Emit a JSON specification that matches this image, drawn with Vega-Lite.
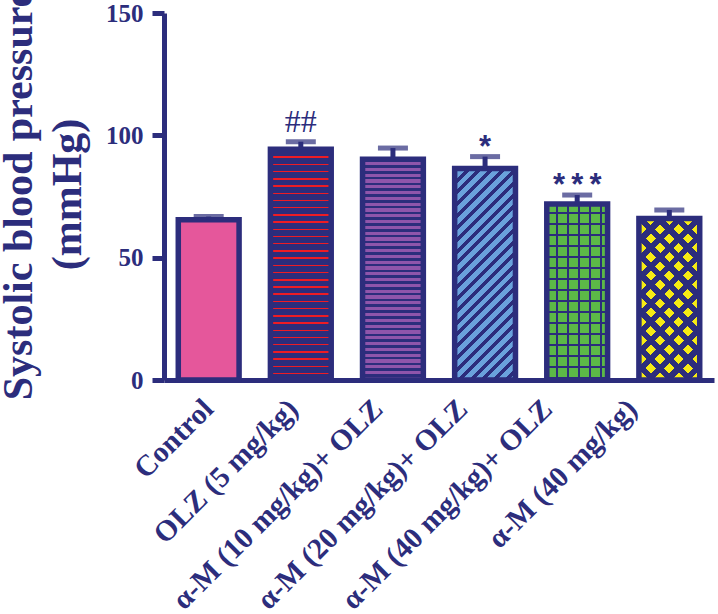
{
  "$schema": "https://vega.github.io/schema/vega-lite/v6.json",
  "width": 550,
  "height": 367,
  "autosize": "none",
  "padding": {"left": 164, "top": 13, "right": 4, "bottom": 234},
  "background": "white",
  "config": {"view": {"stroke": null}},
  "data": {"values": [
    {"k": "ctl", "g": "Control", "v": 65.5, "hi": 66.8, "sig": ""},
    {"k": "olz", "g": "OLZ (5 mg/kg)", "v": 94.3, "hi": 97.4, "sig": "##"},
    {"k": "m10", "g": "α-M (10 mg/kg)+ OLZ", "v": 90.2, "hi": 94.8, "sig": ""},
    {"k": "m20", "g": "α-M (20 mg/kg)+ OLZ", "v": 86.4, "hi": 91.3, "sig": "*"},
    {"k": "m40o", "g": "α-M (40 mg/kg)+ OLZ", "v": 71.9, "hi": 75.6, "sig": "*\u2009*\u2009*"},
    {"k": "m40", "g": "α-M (40 mg/kg)", "v": 66.0, "hi": 69.5, "sig": ""}
  ]},
  "encoding": {
    "x": {
      "field": "g", "type": "nominal", "sort": null,
      "scale": {"paddingInner": 0.34, "paddingOuter": 0.155},
      "axis": {
        "title": null, "domainColor": "#2c2d7c", "domainWidth": 5, "ticks": false, "tickSize": 0,
        "labelAngle": -45, "labelAlign": "right", "labelBaseline": "top",
        "labelFont": "Liberation Serif", "labelFontWeight": "bold", "labelFontSize": 29.5,
        "labelColor": "#2c2d7c", "labelPadding": 14, "labelOffset": {"expr": "-10 - 37*datum.index"}, "labelLimit": 500, "labelOverlap": false
      }
    },
    "y": {
      "field": "v", "type": "quantitative",
      "scale": {"domain": [0, 150], "nice": false},
      "axis": {
        "values": [0, 50, 100, 150], "grid": false,
        "domainColor": "#2c2d7c", "domainWidth": 5,
        "tickColor": "#2c2d7c", "tickWidth": 5, "tickSize": 12,
        "labelPadding": 9, "labelFont": "Liberation Serif", "labelFontWeight": "bold", "labelFontSize": 25, "labelColor": "#2c2d7c",
        "title": ["Systolic blood pressure", "(mmHg)"],
        "titleFont": "Liberation Serif", "titleFontWeight": "bold", "titleFontSize": 42, "titleColor": "#2c2d7c",
        "titleAngle": -90, "titleAlign": "center", "titleBaseline": "top",
        "titleX": -166, "titleY": 181, "titleLineHeight": 49
      }
    }
  },
  "layer": [
    {"transform": [{"filter": "datum.k === 'ctl'"}], "mark": {"type": "bar", "fill": "#e5579b"}},
    {"transform": [{"filter": "datum.k === 'olz'"}], "mark": {"type": "bar", "fill": {"gradient": "linear", "x1": 0, "y1": 0, "x2": 0, "y2": 1, "stops": [
      {"offset":0,"color":"#ee1c24"},{"offset":0.00625,"color":"#ee1c24"},{"offset":0.00625,"color":"#2c2d7c"},{"offset":0.03125,"color":"#2c2d7c"},
      {"offset":0.03125,"color":"#ee1c24"},{"offset":0.0375,"color":"#ee1c24"},{"offset":0.0375,"color":"#2c2d7c"},{"offset":0.0625,"color":"#2c2d7c"},
      {"offset":0.0625,"color":"#ee1c24"},{"offset":0.06875,"color":"#ee1c24"},{"offset":0.06875,"color":"#2c2d7c"},{"offset":0.09375,"color":"#2c2d7c"},
      {"offset":0.09375,"color":"#ee1c24"},{"offset":0.1,"color":"#ee1c24"},{"offset":0.1,"color":"#2c2d7c"},{"offset":0.125,"color":"#2c2d7c"},
      {"offset":0.125,"color":"#ee1c24"},{"offset":0.13125,"color":"#ee1c24"},{"offset":0.13125,"color":"#2c2d7c"},{"offset":0.15625,"color":"#2c2d7c"},
      {"offset":0.15625,"color":"#ee1c24"},{"offset":0.1625,"color":"#ee1c24"},{"offset":0.1625,"color":"#2c2d7c"},{"offset":0.1875,"color":"#2c2d7c"},
      {"offset":0.1875,"color":"#ee1c24"},{"offset":0.19375,"color":"#ee1c24"},{"offset":0.19375,"color":"#2c2d7c"},{"offset":0.21875,"color":"#2c2d7c"},
      {"offset":0.21875,"color":"#ee1c24"},{"offset":0.225,"color":"#ee1c24"},{"offset":0.225,"color":"#2c2d7c"},{"offset":0.25,"color":"#2c2d7c"},
      {"offset":0.25,"color":"#ee1c24"},{"offset":0.25625,"color":"#ee1c24"},{"offset":0.25625,"color":"#2c2d7c"},{"offset":0.28125,"color":"#2c2d7c"},
      {"offset":0.28125,"color":"#ee1c24"},{"offset":0.2875,"color":"#ee1c24"},{"offset":0.2875,"color":"#2c2d7c"},{"offset":0.3125,"color":"#2c2d7c"},
      {"offset":0.3125,"color":"#ee1c24"},{"offset":0.31875,"color":"#ee1c24"},{"offset":0.31875,"color":"#2c2d7c"},{"offset":0.34375,"color":"#2c2d7c"},
      {"offset":0.34375,"color":"#ee1c24"},{"offset":0.35,"color":"#ee1c24"},{"offset":0.35,"color":"#2c2d7c"},{"offset":0.375,"color":"#2c2d7c"},
      {"offset":0.375,"color":"#ee1c24"},{"offset":0.38125,"color":"#ee1c24"},{"offset":0.38125,"color":"#2c2d7c"},{"offset":0.40625,"color":"#2c2d7c"},
      {"offset":0.40625,"color":"#ee1c24"},{"offset":0.4125,"color":"#ee1c24"},{"offset":0.4125,"color":"#2c2d7c"},{"offset":0.4375,"color":"#2c2d7c"},
      {"offset":0.4375,"color":"#ee1c24"},{"offset":0.44375,"color":"#ee1c24"},{"offset":0.44375,"color":"#2c2d7c"},{"offset":0.46875,"color":"#2c2d7c"},
      {"offset":0.46875,"color":"#ee1c24"},{"offset":0.475,"color":"#ee1c24"},{"offset":0.475,"color":"#2c2d7c"},{"offset":0.5,"color":"#2c2d7c"},
      {"offset":0.5,"color":"#ee1c24"},{"offset":0.50625,"color":"#ee1c24"},{"offset":0.50625,"color":"#2c2d7c"},{"offset":0.53125,"color":"#2c2d7c"},
      {"offset":0.53125,"color":"#ee1c24"},{"offset":0.5375,"color":"#ee1c24"},{"offset":0.5375,"color":"#2c2d7c"},{"offset":0.5625,"color":"#2c2d7c"},
      {"offset":0.5625,"color":"#ee1c24"},{"offset":0.56875,"color":"#ee1c24"},{"offset":0.56875,"color":"#2c2d7c"},{"offset":0.59375,"color":"#2c2d7c"},
      {"offset":0.59375,"color":"#ee1c24"},{"offset":0.6,"color":"#ee1c24"},{"offset":0.6,"color":"#2c2d7c"},{"offset":0.625,"color":"#2c2d7c"},
      {"offset":0.625,"color":"#ee1c24"},{"offset":0.63125,"color":"#ee1c24"},{"offset":0.63125,"color":"#2c2d7c"},{"offset":0.65625,"color":"#2c2d7c"},
      {"offset":0.65625,"color":"#ee1c24"},{"offset":0.6625,"color":"#ee1c24"},{"offset":0.6625,"color":"#2c2d7c"},{"offset":0.6875,"color":"#2c2d7c"},
      {"offset":0.6875,"color":"#ee1c24"},{"offset":0.69375,"color":"#ee1c24"},{"offset":0.69375,"color":"#2c2d7c"},{"offset":0.71875,"color":"#2c2d7c"},
      {"offset":0.71875,"color":"#ee1c24"},{"offset":0.725,"color":"#ee1c24"},{"offset":0.725,"color":"#2c2d7c"},{"offset":0.75,"color":"#2c2d7c"},
      {"offset":0.75,"color":"#ee1c24"},{"offset":0.75625,"color":"#ee1c24"},{"offset":0.75625,"color":"#2c2d7c"},{"offset":0.78125,"color":"#2c2d7c"},
      {"offset":0.78125,"color":"#ee1c24"},{"offset":0.7875,"color":"#ee1c24"},{"offset":0.7875,"color":"#2c2d7c"},{"offset":0.8125,"color":"#2c2d7c"},
      {"offset":0.8125,"color":"#ee1c24"},{"offset":0.81875,"color":"#ee1c24"},{"offset":0.81875,"color":"#2c2d7c"},{"offset":0.84375,"color":"#2c2d7c"},
      {"offset":0.84375,"color":"#ee1c24"},{"offset":0.85,"color":"#ee1c24"},{"offset":0.85,"color":"#2c2d7c"},{"offset":0.875,"color":"#2c2d7c"},
      {"offset":0.875,"color":"#ee1c24"},{"offset":0.88125,"color":"#ee1c24"},{"offset":0.88125,"color":"#2c2d7c"},{"offset":0.90625,"color":"#2c2d7c"},
      {"offset":0.90625,"color":"#ee1c24"},{"offset":0.9125,"color":"#ee1c24"},{"offset":0.9125,"color":"#2c2d7c"},{"offset":0.9375,"color":"#2c2d7c"},
      {"offset":0.9375,"color":"#ee1c24"},{"offset":0.94375,"color":"#ee1c24"},{"offset":0.94375,"color":"#2c2d7c"},{"offset":0.96875,"color":"#2c2d7c"},
      {"offset":0.96875,"color":"#ee1c24"},{"offset":0.975,"color":"#ee1c24"},{"offset":0.975,"color":"#2c2d7c"},{"offset":1,"color":"#2c2d7c"}
    ]}}},
    {"transform": [{"filter": "datum.k === 'm10'"}], "mark": {"type": "bar", "fill": {"gradient": "linear", "x1": 0, "y1": 0, "x2": 0, "y2": 1, "stops": [
      {"offset":0,"color":"#2c2d7c"},{"offset":0.0118,"color":"#2c2d7c"},{"offset":0.0118,"color":"#8f55ab"},{"offset":0.02632,"color":"#8f55ab"},
      {"offset":0.02632,"color":"#2c2d7c"},{"offset":0.0381,"color":"#2c2d7c"},{"offset":0.0381,"color":"#8f55ab"},{"offset":0.05263,"color":"#8f55ab"},
      {"offset":0.05263,"color":"#2c2d7c"},{"offset":0.0644,"color":"#2c2d7c"},{"offset":0.0644,"color":"#8f55ab"},{"offset":0.07895,"color":"#8f55ab"},
      {"offset":0.07895,"color":"#2c2d7c"},{"offset":0.0907,"color":"#2c2d7c"},{"offset":0.0907,"color":"#8f55ab"},{"offset":0.10526,"color":"#8f55ab"},
      {"offset":0.10526,"color":"#2c2d7c"},{"offset":0.1171,"color":"#2c2d7c"},{"offset":0.1171,"color":"#8f55ab"},{"offset":0.13158,"color":"#8f55ab"},
      {"offset":0.13158,"color":"#2c2d7c"},{"offset":0.1434,"color":"#2c2d7c"},{"offset":0.1434,"color":"#8f55ab"},{"offset":0.15789,"color":"#8f55ab"},
      {"offset":0.15789,"color":"#2c2d7c"},{"offset":0.1697,"color":"#2c2d7c"},{"offset":0.1697,"color":"#8f55ab"},{"offset":0.18421,"color":"#8f55ab"},
      {"offset":0.18421,"color":"#2c2d7c"},{"offset":0.196,"color":"#2c2d7c"},{"offset":0.196,"color":"#8f55ab"},{"offset":0.21053,"color":"#8f55ab"},
      {"offset":0.21053,"color":"#2c2d7c"},{"offset":0.2223,"color":"#2c2d7c"},{"offset":0.2223,"color":"#8f55ab"},{"offset":0.23684,"color":"#8f55ab"},
      {"offset":0.23684,"color":"#2c2d7c"},{"offset":0.2486,"color":"#2c2d7c"},{"offset":0.2486,"color":"#8f55ab"},{"offset":0.26316,"color":"#8f55ab"},
      {"offset":0.26316,"color":"#2c2d7c"},{"offset":0.275,"color":"#2c2d7c"},{"offset":0.275,"color":"#8f55ab"},{"offset":0.28947,"color":"#8f55ab"},
      {"offset":0.28947,"color":"#2c2d7c"},{"offset":0.3013,"color":"#2c2d7c"},{"offset":0.3013,"color":"#8f55ab"},{"offset":0.31579,"color":"#8f55ab"},
      {"offset":0.31579,"color":"#2c2d7c"},{"offset":0.3276,"color":"#2c2d7c"},{"offset":0.3276,"color":"#8f55ab"},{"offset":0.34211,"color":"#8f55ab"},
      {"offset":0.34211,"color":"#2c2d7c"},{"offset":0.3539,"color":"#2c2d7c"},{"offset":0.3539,"color":"#8f55ab"},{"offset":0.36842,"color":"#8f55ab"},
      {"offset":0.36842,"color":"#2c2d7c"},{"offset":0.3802,"color":"#2c2d7c"},{"offset":0.3802,"color":"#8f55ab"},{"offset":0.39474,"color":"#8f55ab"},
      {"offset":0.39474,"color":"#2c2d7c"},{"offset":0.4065,"color":"#2c2d7c"},{"offset":0.4065,"color":"#8f55ab"},{"offset":0.42105,"color":"#8f55ab"},
      {"offset":0.42105,"color":"#2c2d7c"},{"offset":0.4329,"color":"#2c2d7c"},{"offset":0.4329,"color":"#8f55ab"},{"offset":0.44737,"color":"#8f55ab"},
      {"offset":0.44737,"color":"#2c2d7c"},{"offset":0.4592,"color":"#2c2d7c"},{"offset":0.4592,"color":"#8f55ab"},{"offset":0.47368,"color":"#8f55ab"},
      {"offset":0.47368,"color":"#2c2d7c"},{"offset":0.4855,"color":"#2c2d7c"},{"offset":0.4855,"color":"#8f55ab"},{"offset":0.5,"color":"#8f55ab"},
      {"offset":0.5,"color":"#2c2d7c"},{"offset":0.5118,"color":"#2c2d7c"},{"offset":0.5118,"color":"#8f55ab"},{"offset":0.52632,"color":"#8f55ab"},
      {"offset":0.52632,"color":"#2c2d7c"},{"offset":0.5381,"color":"#2c2d7c"},{"offset":0.5381,"color":"#8f55ab"},{"offset":0.55263,"color":"#8f55ab"},
      {"offset":0.55263,"color":"#2c2d7c"},{"offset":0.5644,"color":"#2c2d7c"},{"offset":0.5644,"color":"#8f55ab"},{"offset":0.57895,"color":"#8f55ab"},
      {"offset":0.57895,"color":"#2c2d7c"},{"offset":0.5908,"color":"#2c2d7c"},{"offset":0.5908,"color":"#8f55ab"},{"offset":0.60526,"color":"#8f55ab"},
      {"offset":0.60526,"color":"#2c2d7c"},{"offset":0.6171,"color":"#2c2d7c"},{"offset":0.6171,"color":"#8f55ab"},{"offset":0.63158,"color":"#8f55ab"},
      {"offset":0.63158,"color":"#2c2d7c"},{"offset":0.6434,"color":"#2c2d7c"},{"offset":0.6434,"color":"#8f55ab"},{"offset":0.65789,"color":"#8f55ab"},
      {"offset":0.65789,"color":"#2c2d7c"},{"offset":0.6697,"color":"#2c2d7c"},{"offset":0.6697,"color":"#8f55ab"},{"offset":0.68421,"color":"#8f55ab"},
      {"offset":0.68421,"color":"#2c2d7c"},{"offset":0.696,"color":"#2c2d7c"},{"offset":0.696,"color":"#8f55ab"},{"offset":0.71053,"color":"#8f55ab"},
      {"offset":0.71053,"color":"#2c2d7c"},{"offset":0.7223,"color":"#2c2d7c"},{"offset":0.7223,"color":"#8f55ab"},{"offset":0.73684,"color":"#8f55ab"},
      {"offset":0.73684,"color":"#2c2d7c"},{"offset":0.7486,"color":"#2c2d7c"},{"offset":0.7486,"color":"#8f55ab"},{"offset":0.76316,"color":"#8f55ab"},
      {"offset":0.76316,"color":"#2c2d7c"},{"offset":0.775,"color":"#2c2d7c"},{"offset":0.775,"color":"#8f55ab"},{"offset":0.78947,"color":"#8f55ab"},
      {"offset":0.78947,"color":"#2c2d7c"},{"offset":0.8013,"color":"#2c2d7c"},{"offset":0.8013,"color":"#8f55ab"},{"offset":0.81579,"color":"#8f55ab"},
      {"offset":0.81579,"color":"#2c2d7c"},{"offset":0.8276,"color":"#2c2d7c"},{"offset":0.8276,"color":"#8f55ab"},{"offset":0.84211,"color":"#8f55ab"},
      {"offset":0.84211,"color":"#2c2d7c"},{"offset":0.8539,"color":"#2c2d7c"},{"offset":0.8539,"color":"#8f55ab"},{"offset":0.86842,"color":"#8f55ab"},
      {"offset":0.86842,"color":"#2c2d7c"},{"offset":0.8802,"color":"#2c2d7c"},{"offset":0.8802,"color":"#8f55ab"},{"offset":0.89474,"color":"#8f55ab"},
      {"offset":0.89474,"color":"#2c2d7c"},{"offset":0.9065,"color":"#2c2d7c"},{"offset":0.9065,"color":"#8f55ab"},{"offset":0.92105,"color":"#8f55ab"},
      {"offset":0.92105,"color":"#2c2d7c"},{"offset":0.9329,"color":"#2c2d7c"},{"offset":0.9329,"color":"#8f55ab"},{"offset":0.94737,"color":"#8f55ab"},
      {"offset":0.94737,"color":"#2c2d7c"},{"offset":0.9592,"color":"#2c2d7c"},{"offset":0.9592,"color":"#8f55ab"},{"offset":0.97368,"color":"#8f55ab"},
      {"offset":0.97368,"color":"#2c2d7c"},{"offset":0.9855,"color":"#2c2d7c"},{"offset":0.9855,"color":"#8f55ab"},{"offset":1,"color":"#8f55ab"}
    ]}}},
    {"transform": [{"filter": "datum.k === 'm20'"}], "mark": {"type": "bar", "fill": {"gradient": "linear", "x1": 0, "y1": 0, "x2": 0.34205, "y2": 1.18924, "stops": [
      {"offset":0,"color":"#2c2d7c"},{"offset":0.01826,"color":"#2c2d7c"},{"offset":0.01826,"color":"#6aa2dc"},{"offset":0.04348,"color":"#6aa2dc"},
      {"offset":0.04348,"color":"#2c2d7c"},{"offset":0.06174,"color":"#2c2d7c"},{"offset":0.06174,"color":"#6aa2dc"},{"offset":0.08696,"color":"#6aa2dc"},
      {"offset":0.08696,"color":"#2c2d7c"},{"offset":0.10522,"color":"#2c2d7c"},{"offset":0.10522,"color":"#6aa2dc"},{"offset":0.13043,"color":"#6aa2dc"},
      {"offset":0.13043,"color":"#2c2d7c"},{"offset":0.14869,"color":"#2c2d7c"},{"offset":0.14869,"color":"#6aa2dc"},{"offset":0.17391,"color":"#6aa2dc"},
      {"offset":0.17391,"color":"#2c2d7c"},{"offset":0.19217,"color":"#2c2d7c"},{"offset":0.19217,"color":"#6aa2dc"},{"offset":0.21739,"color":"#6aa2dc"},
      {"offset":0.21739,"color":"#2c2d7c"},{"offset":0.23565,"color":"#2c2d7c"},{"offset":0.23565,"color":"#6aa2dc"},{"offset":0.26087,"color":"#6aa2dc"},
      {"offset":0.26087,"color":"#2c2d7c"},{"offset":0.27913,"color":"#2c2d7c"},{"offset":0.27913,"color":"#6aa2dc"},{"offset":0.30435,"color":"#6aa2dc"},
      {"offset":0.30435,"color":"#2c2d7c"},{"offset":0.32261,"color":"#2c2d7c"},{"offset":0.32261,"color":"#6aa2dc"},{"offset":0.34783,"color":"#6aa2dc"},
      {"offset":0.34783,"color":"#2c2d7c"},{"offset":0.36609,"color":"#2c2d7c"},{"offset":0.36609,"color":"#6aa2dc"},{"offset":0.3913,"color":"#6aa2dc"},
      {"offset":0.3913,"color":"#2c2d7c"},{"offset":0.40956,"color":"#2c2d7c"},{"offset":0.40956,"color":"#6aa2dc"},{"offset":0.43478,"color":"#6aa2dc"},
      {"offset":0.43478,"color":"#2c2d7c"},{"offset":0.45304,"color":"#2c2d7c"},{"offset":0.45304,"color":"#6aa2dc"},{"offset":0.47826,"color":"#6aa2dc"},
      {"offset":0.47826,"color":"#2c2d7c"},{"offset":0.49652,"color":"#2c2d7c"},{"offset":0.49652,"color":"#6aa2dc"},{"offset":0.52174,"color":"#6aa2dc"},
      {"offset":0.52174,"color":"#2c2d7c"},{"offset":0.54,"color":"#2c2d7c"},{"offset":0.54,"color":"#6aa2dc"},{"offset":0.56522,"color":"#6aa2dc"},
      {"offset":0.56522,"color":"#2c2d7c"},{"offset":0.58348,"color":"#2c2d7c"},{"offset":0.58348,"color":"#6aa2dc"},{"offset":0.6087,"color":"#6aa2dc"},
      {"offset":0.6087,"color":"#2c2d7c"},{"offset":0.62696,"color":"#2c2d7c"},{"offset":0.62696,"color":"#6aa2dc"},{"offset":0.65217,"color":"#6aa2dc"},
      {"offset":0.65217,"color":"#2c2d7c"},{"offset":0.67043,"color":"#2c2d7c"},{"offset":0.67043,"color":"#6aa2dc"},{"offset":0.69565,"color":"#6aa2dc"},
      {"offset":0.69565,"color":"#2c2d7c"},{"offset":0.71391,"color":"#2c2d7c"},{"offset":0.71391,"color":"#6aa2dc"},{"offset":0.73913,"color":"#6aa2dc"},
      {"offset":0.73913,"color":"#2c2d7c"},{"offset":0.75739,"color":"#2c2d7c"},{"offset":0.75739,"color":"#6aa2dc"},{"offset":0.78261,"color":"#6aa2dc"},
      {"offset":0.78261,"color":"#2c2d7c"},{"offset":0.80087,"color":"#2c2d7c"},{"offset":0.80087,"color":"#6aa2dc"},{"offset":0.82609,"color":"#6aa2dc"},
      {"offset":0.82609,"color":"#2c2d7c"},{"offset":0.84435,"color":"#2c2d7c"},{"offset":0.84435,"color":"#6aa2dc"},{"offset":0.86957,"color":"#6aa2dc"},
      {"offset":0.86957,"color":"#2c2d7c"},{"offset":0.88783,"color":"#2c2d7c"},{"offset":0.88783,"color":"#6aa2dc"},{"offset":0.91304,"color":"#6aa2dc"},
      {"offset":0.91304,"color":"#2c2d7c"},{"offset":0.9313,"color":"#2c2d7c"},{"offset":0.9313,"color":"#6aa2dc"},{"offset":0.95652,"color":"#6aa2dc"},
      {"offset":0.95652,"color":"#2c2d7c"},{"offset":0.97478,"color":"#2c2d7c"},{"offset":0.97478,"color":"#6aa2dc"},{"offset":1,"color":"#6aa2dc"}
    ]}}},
    {"transform": [{"filter": "datum.k === 'm40o'"}], "mark": {"type": "bar", "fill": {"gradient": "linear", "x1": 0, "y1": 0, "x2": 0, "y2": 1, "stops": [
      {"offset":0,"color":"#5cb947"},{"offset":0.04434,"color":"#5cb947"},{"offset":0.04434,"color":"#2c2d7c"},{"offset":0.05685,"color":"#2c2d7c"},
      {"offset":0.05685,"color":"#5cb947"},{"offset":0.10687,"color":"#5cb947"},{"offset":0.10687,"color":"#2c2d7c"},{"offset":0.11938,"color":"#2c2d7c"},
      {"offset":0.11938,"color":"#5cb947"},{"offset":0.16941,"color":"#5cb947"},{"offset":0.16941,"color":"#2c2d7c"},{"offset":0.18191,"color":"#2c2d7c"},
      {"offset":0.18191,"color":"#5cb947"},{"offset":0.23137,"color":"#5cb947"},{"offset":0.23137,"color":"#2c2d7c"},{"offset":0.24387,"color":"#2c2d7c"},
      {"offset":0.24387,"color":"#5cb947"},{"offset":0.2939,"color":"#5cb947"},{"offset":0.2939,"color":"#2c2d7c"},{"offset":0.30641,"color":"#2c2d7c"},
      {"offset":0.30641,"color":"#5cb947"},{"offset":0.35643,"color":"#5cb947"},{"offset":0.35643,"color":"#2c2d7c"},{"offset":0.36894,"color":"#2c2d7c"},
      {"offset":0.36894,"color":"#5cb947"},{"offset":0.41896,"color":"#5cb947"},{"offset":0.41896,"color":"#2c2d7c"},{"offset":0.43147,"color":"#2c2d7c"},
      {"offset":0.43147,"color":"#5cb947"},{"offset":0.48149,"color":"#5cb947"},{"offset":0.48149,"color":"#2c2d7c"},{"offset":0.494,"color":"#2c2d7c"},
      {"offset":0.494,"color":"#5cb947"},{"offset":0.54346,"color":"#5cb947"},{"offset":0.54346,"color":"#2c2d7c"},{"offset":0.55597,"color":"#2c2d7c"},
      {"offset":0.55597,"color":"#5cb947"},{"offset":0.60599,"color":"#5cb947"},{"offset":0.60599,"color":"#2c2d7c"},{"offset":0.6185,"color":"#2c2d7c"},
      {"offset":0.6185,"color":"#5cb947"},{"offset":0.66852,"color":"#5cb947"},{"offset":0.66852,"color":"#2c2d7c"},{"offset":0.68103,"color":"#2c2d7c"},
      {"offset":0.68103,"color":"#5cb947"},{"offset":0.73105,"color":"#5cb947"},{"offset":0.73105,"color":"#2c2d7c"},{"offset":0.74356,"color":"#2c2d7c"},
      {"offset":0.74356,"color":"#5cb947"},{"offset":0.79359,"color":"#5cb947"},{"offset":0.79359,"color":"#2c2d7c"},{"offset":0.80609,"color":"#2c2d7c"},
      {"offset":0.80609,"color":"#5cb947"},{"offset":0.85555,"color":"#5cb947"},{"offset":0.85555,"color":"#2c2d7c"},{"offset":0.86806,"color":"#2c2d7c"},
      {"offset":0.86806,"color":"#5cb947"},{"offset":0.91808,"color":"#5cb947"},{"offset":0.91808,"color":"#2c2d7c"},{"offset":0.93059,"color":"#2c2d7c"},
      {"offset":0.93059,"color":"#5cb947"},{"offset":0.98062,"color":"#5cb947"},{"offset":0.98062,"color":"#2c2d7c"},{"offset":0.99312,"color":"#2c2d7c"},
      {"offset":0.99312,"color":"#5cb947"},{"offset":1,"color":"#5cb947"}
    ]}}},
    {"transform": [{"filter": "datum.k === 'm40o'"}], "mark": {"type": "bar", "fill": {"gradient": "linear", "x1": 0, "y1": 0, "x2": 1, "y2": 0, "stops": [
      {"offset":0,"color":"rgba(44,45,124,0)"},{"offset":0.14967,"color":"rgba(44,45,124,0)"},{"offset":0.14967,"color":"#2c2d7c"},{"offset":0.18586,"color":"#2c2d7c"},
      {"offset":0.18586,"color":"rgba(44,45,124,0)"},{"offset":0.33059,"color":"rgba(44,45,124,0)"},{"offset":0.33059,"color":"#2c2d7c"},{"offset":0.36678,"color":"#2c2d7c"},
      {"offset":0.36678,"color":"rgba(44,45,124,0)"},{"offset":0.50987,"color":"rgba(44,45,124,0)"},{"offset":0.50987,"color":"#2c2d7c"},{"offset":0.54605,"color":"#2c2d7c"},
      {"offset":0.54605,"color":"rgba(44,45,124,0)"},{"offset":0.69079,"color":"rgba(44,45,124,0)"},{"offset":0.69079,"color":"#2c2d7c"},{"offset":0.72697,"color":"#2c2d7c"},
      {"offset":0.72697,"color":"rgba(44,45,124,0)"},{"offset":0.87171,"color":"rgba(44,45,124,0)"},{"offset":0.87171,"color":"#2c2d7c"},{"offset":0.90789,"color":"#2c2d7c"},
      {"offset":0.90789,"color":"rgba(44,45,124,0)"},{"offset":1,"color":"rgba(44,45,124,0)"}
    ]}}},
    {"transform": [{"filter": "datum.k === 'm40'"}], "mark": {"type": "bar", "fill": "#f6eb14"}},
    {"transform": [{"filter": "datum.k === 'm40'"}], "mark": {"type": "bar", "fill": {"gradient": "linear", "x1": 0, "y1": 0, "x2": 0.45393, "y2": 1.20561, "stops": [
      {"offset":0,"color":"#2c2d7c"},{"offset":0.0375,"color":"#2c2d7c"},{"offset":0.0375,"color":"rgba(44,45,124,0)"},{"offset":0.08333,"color":"rgba(44,45,124,0)"},
      {"offset":0.08333,"color":"#2c2d7c"},{"offset":0.12083,"color":"#2c2d7c"},{"offset":0.12083,"color":"rgba(44,45,124,0)"},{"offset":0.16667,"color":"rgba(44,45,124,0)"},
      {"offset":0.16667,"color":"#2c2d7c"},{"offset":0.20417,"color":"#2c2d7c"},{"offset":0.20417,"color":"rgba(44,45,124,0)"},{"offset":0.25,"color":"rgba(44,45,124,0)"},
      {"offset":0.25,"color":"#2c2d7c"},{"offset":0.2875,"color":"#2c2d7c"},{"offset":0.2875,"color":"rgba(44,45,124,0)"},{"offset":0.33333,"color":"rgba(44,45,124,0)"},
      {"offset":0.33333,"color":"#2c2d7c"},{"offset":0.37083,"color":"#2c2d7c"},{"offset":0.37083,"color":"rgba(44,45,124,0)"},{"offset":0.41667,"color":"rgba(44,45,124,0)"},
      {"offset":0.41667,"color":"#2c2d7c"},{"offset":0.45417,"color":"#2c2d7c"},{"offset":0.45417,"color":"rgba(44,45,124,0)"},{"offset":0.5,"color":"rgba(44,45,124,0)"},
      {"offset":0.5,"color":"#2c2d7c"},{"offset":0.5375,"color":"#2c2d7c"},{"offset":0.5375,"color":"rgba(44,45,124,0)"},{"offset":0.58333,"color":"rgba(44,45,124,0)"},
      {"offset":0.58333,"color":"#2c2d7c"},{"offset":0.62083,"color":"#2c2d7c"},{"offset":0.62083,"color":"rgba(44,45,124,0)"},{"offset":0.66667,"color":"rgba(44,45,124,0)"},
      {"offset":0.66667,"color":"#2c2d7c"},{"offset":0.70417,"color":"#2c2d7c"},{"offset":0.70417,"color":"rgba(44,45,124,0)"},{"offset":0.75,"color":"rgba(44,45,124,0)"},
      {"offset":0.75,"color":"#2c2d7c"},{"offset":0.7875,"color":"#2c2d7c"},{"offset":0.7875,"color":"rgba(44,45,124,0)"},{"offset":0.83333,"color":"rgba(44,45,124,0)"},
      {"offset":0.83333,"color":"#2c2d7c"},{"offset":0.87083,"color":"#2c2d7c"},{"offset":0.87083,"color":"rgba(44,45,124,0)"},{"offset":0.91667,"color":"rgba(44,45,124,0)"},
      {"offset":0.91667,"color":"#2c2d7c"},{"offset":0.95417,"color":"#2c2d7c"},{"offset":0.95417,"color":"rgba(44,45,124,0)"},{"offset":1,"color":"rgba(44,45,124,0)"}
    ]}}},
    {"transform": [{"filter": "datum.k === 'm40'"}], "mark": {"type": "bar", "fill": {"gradient": "linear", "x1": 1, "y1": 0, "x2": 0.54607, "y2": 1.20561, "stops": [
      {"offset":0,"color":"#2c2d7c"},{"offset":0.0375,"color":"#2c2d7c"},{"offset":0.0375,"color":"rgba(44,45,124,0)"},{"offset":0.08333,"color":"rgba(44,45,124,0)"},
      {"offset":0.08333,"color":"#2c2d7c"},{"offset":0.12083,"color":"#2c2d7c"},{"offset":0.12083,"color":"rgba(44,45,124,0)"},{"offset":0.16667,"color":"rgba(44,45,124,0)"},
      {"offset":0.16667,"color":"#2c2d7c"},{"offset":0.20417,"color":"#2c2d7c"},{"offset":0.20417,"color":"rgba(44,45,124,0)"},{"offset":0.25,"color":"rgba(44,45,124,0)"},
      {"offset":0.25,"color":"#2c2d7c"},{"offset":0.2875,"color":"#2c2d7c"},{"offset":0.2875,"color":"rgba(44,45,124,0)"},{"offset":0.33333,"color":"rgba(44,45,124,0)"},
      {"offset":0.33333,"color":"#2c2d7c"},{"offset":0.37083,"color":"#2c2d7c"},{"offset":0.37083,"color":"rgba(44,45,124,0)"},{"offset":0.41667,"color":"rgba(44,45,124,0)"},
      {"offset":0.41667,"color":"#2c2d7c"},{"offset":0.45417,"color":"#2c2d7c"},{"offset":0.45417,"color":"rgba(44,45,124,0)"},{"offset":0.5,"color":"rgba(44,45,124,0)"},
      {"offset":0.5,"color":"#2c2d7c"},{"offset":0.5375,"color":"#2c2d7c"},{"offset":0.5375,"color":"rgba(44,45,124,0)"},{"offset":0.58333,"color":"rgba(44,45,124,0)"},
      {"offset":0.58333,"color":"#2c2d7c"},{"offset":0.62083,"color":"#2c2d7c"},{"offset":0.62083,"color":"rgba(44,45,124,0)"},{"offset":0.66667,"color":"rgba(44,45,124,0)"},
      {"offset":0.66667,"color":"#2c2d7c"},{"offset":0.70417,"color":"#2c2d7c"},{"offset":0.70417,"color":"rgba(44,45,124,0)"},{"offset":0.75,"color":"rgba(44,45,124,0)"},
      {"offset":0.75,"color":"#2c2d7c"},{"offset":0.7875,"color":"#2c2d7c"},{"offset":0.7875,"color":"rgba(44,45,124,0)"},{"offset":0.83333,"color":"rgba(44,45,124,0)"},
      {"offset":0.83333,"color":"#2c2d7c"},{"offset":0.87083,"color":"#2c2d7c"},{"offset":0.87083,"color":"rgba(44,45,124,0)"},{"offset":0.91667,"color":"rgba(44,45,124,0)"},
      {"offset":0.91667,"color":"#2c2d7c"},{"offset":0.95417,"color":"#2c2d7c"},{"offset":0.95417,"color":"rgba(44,45,124,0)"},{"offset":1,"color":"rgba(44,45,124,0)"}
    ]}}},
    {"mark": {"type": "bar", "fillOpacity": 0, "stroke": "#2c2d7c", "strokeWidth": 5.5}},
    {"mark": {"type": "rule", "color": "#2c2d7c", "strokeWidth": 5}, "encoding": {"y2": {"field": "hi"}}},
    {"mark": {"type": "tick", "color": "#2c2d7c", "size": 30, "thickness": 5}, "encoding": {"y": {"field": "hi", "type": "quantitative"}}},
    {"transform": [{"filter": "datum.sig === '##'"}], "mark": {"type": "text", "color": "#2c2d7c", "font": "Liberation Serif", "fontSize": 32, "baseline": "alphabetic", "dy": -10}, "encoding": {"y": {"field": "hi", "type": "quantitative"}, "text": {"field": "sig"}}},
    {"transform": [{"filter": "datum.k === 'm20' || datum.k === 'm40o'"}], "mark": {"type": "text", "color": "#2c2d7c", "font": "Liberation Sans", "fontWeight": "bold", "fontSize": 31, "baseline": "alphabetic", "dy": 0}, "encoding": {"y": {"field": "hi", "type": "quantitative"}, "text": {"field": "sig"}}}
  ]
}
